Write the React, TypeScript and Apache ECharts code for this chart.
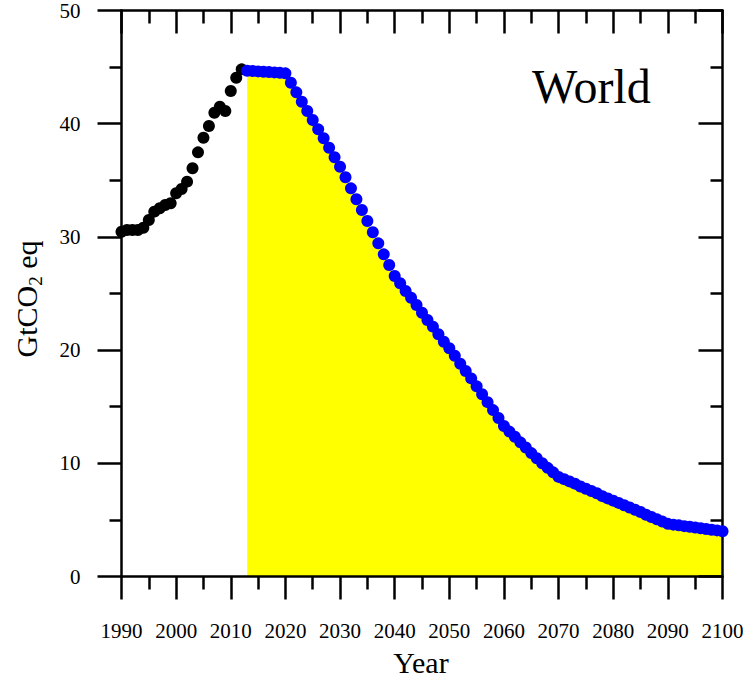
import React, { useEffect, useRef } from 'react';
import * as echarts from 'echarts';

const FONT = "'Liberation Serif', 'Times New Roman', Times, serif";

// Historical emissions (black dots), one value per year starting 1990
const histStart = 1990;
const histValues = [
  30.46, 30.61, 30.61, 30.61, 30.81, 31.49, 32.23, 32.53, 32.82, 32.97,
  33.85, 34.23, 34.88, 36.06, 37.47, 38.76, 39.8, 40.97, 41.5, 41.12,
  42.89, 44.06, 44.8,
];

// Pathway (blue dots + yellow area), one value per year starting 2013
const scenStart = 2013;
const scenValues = [
  44.68, 44.65, 44.62, 44.59, 44.56, 44.53, 44.49, 44.45,
  43.62, 42.77, 41.94, 41.12, 40.33, 39.5, 38.71, 37.88, 37.03, 36.2,
  35.27, 34.29, 33.32, 32.38, 31.4, 30.41, 29.43, 28.46, 27.52, 26.55,
  25.9, 25.22, 24.63, 23.98, 23.3, 22.66, 22.07, 21.4, 20.74, 20.16,
  19.5, 18.8, 18.15, 17.5, 16.8, 16.1, 15.4, 14.7, 14.0, 13.3,
  12.8, 12.35, 11.85, 11.4, 10.9, 10.45, 10.0, 9.6, 9.2, 8.8,
  8.6, 8.4, 8.2, 7.95, 7.75, 7.55, 7.35, 7.1, 6.9, 6.7,
  6.5, 6.3, 6.1, 5.9, 5.7, 5.45, 5.25, 5.05, 4.85, 4.65,
  4.58, 4.52, 4.45, 4.39, 4.33, 4.26, 4.2, 4.13, 4.07, 4.0,
];

const xRange = [1990, 2100];
const xStep = 10;
const yRange = [0, 50];
const yStep = 10;

const regionLabel = 'World';
const xTitle = 'Year';

export default function App() {
  const ref = useRef<HTMLDivElement>(null);
  useEffect(() => {
    const chart = echarts.init(ref.current!, null, { renderer: 'svg' });
    const hist = histValues.map((v, i) => [histStart + i, v]);
    const scen = scenValues.map((v, i) => [scenStart + i, v]);
    const lineW = 2.5;
    const axisLine = { show: true, onZero: false, lineStyle: { color: '#000', width: lineW } };
    const tickStyle = { color: '#000', width: lineW };
    const xCommon = {
      type: 'value', min: xRange[0], max: xRange[1], interval: xStep, z: 1,
      axisLine, splitLine: { show: false }, minorSplitLine: { show: false },
    };
    const yCommon = {
      type: 'value', min: yRange[0], max: yRange[1], interval: yStep, z: 1,
      axisLine, splitLine: { show: false }, minorSplitLine: { show: false },
    };
    chart.setOption({
      animation: false,
      grid: { left: 121.5, right: 24.5, top: 10.5, bottom: 101.5 },
      xAxis: [
        {
          ...xCommon, position: 'bottom',
          axisTick: { show: true, inside: false, length: 23, lineStyle: tickStyle },
          minorTick: { show: true, splitNumber: 2, length: 13, lineStyle: tickStyle },
          axisLabel: {
            show: true, fontFamily: FONT, fontSize: 21, color: '#000', margin: 44,
            formatter: (v: number) => String(v),
          },
        },
        {
          ...xCommon, position: 'top',
          axisTick: { show: true, inside: true, length: 23, lineStyle: tickStyle },
          minorTick: { show: true, splitNumber: 2, length: 13, lineStyle: tickStyle },
          axisLabel: { show: false },
        },
      ],
      yAxis: [
        {
          ...yCommon, position: 'left',
          axisTick: { show: true, inside: false, length: 24, lineStyle: tickStyle },
          minorTick: { show: true, splitNumber: 2, length: 12, lineStyle: tickStyle },
          axisLabel: {
            show: true, fontFamily: FONT, fontSize: 21, color: '#000', margin: 41,
            formatter: (v: number) => String(v),
          },
        },
        {
          ...yCommon, position: 'right',
          axisTick: { show: true, inside: true, length: 24, lineStyle: tickStyle },
          minorTick: { show: true, splitNumber: 2, length: 12, lineStyle: tickStyle },
          axisLabel: { show: false },
        },
      ],
      series: [
        {
          type: 'line', data: scen, z: 0, showSymbol: false, symbol: 'none',
          lineStyle: { width: 0, opacity: 0 },
          areaStyle: { color: '#ffff00', opacity: 1 },
          silent: true,
        },
        {
          type: 'scatter', data: hist, z: 3, symbol: 'circle', symbolSize: 12,
          itemStyle: { color: '#000000', opacity: 1 },
        },
        {
          type: 'scatter', data: scen, z: 4, symbol: 'circle', symbolSize: 12,
          itemStyle: { color: '#0000ff', opacity: 1 },
        },
      ],
      graphic: [
        {
          type: 'text', x: 532, y: 86, z: 10,
          style: { text: regionLabel, fontFamily: FONT, fontSize: 48, fill: '#000', align: 'left', verticalAlign: 'middle' },
        },
        {
          type: 'text', x: 421, y: 662, z: 10,
          style: { text: xTitle, fontFamily: FONT, fontSize: 30, fill: '#000', align: 'center', verticalAlign: 'middle' },
        },
        {
          type: 'text', x: 26, y: 299, rotation: Math.PI / 2, z: 10,
          style: {
            text: '{a|GtCO}{b|2}{a| eq}',
            fill: '#000', align: 'center', verticalAlign: 'middle',
            fontFamily: FONT, fontSize: 30,
            rich: {
              a: { fontFamily: FONT, fontSize: 30, fill: '#000' },
              b: { fontFamily: FONT, fontSize: 19, fill: '#000', padding: [18, 0, 0, 0] },
            },
          },
        },
      ],
    });
    return () => chart.dispose();
  }, []);
  return (
    <div
      ref={ref}
      style={{ position: 'fixed', left: 0, top: 0, width: 747, height: 678, background: '#fff' }}
    />
  );
}
